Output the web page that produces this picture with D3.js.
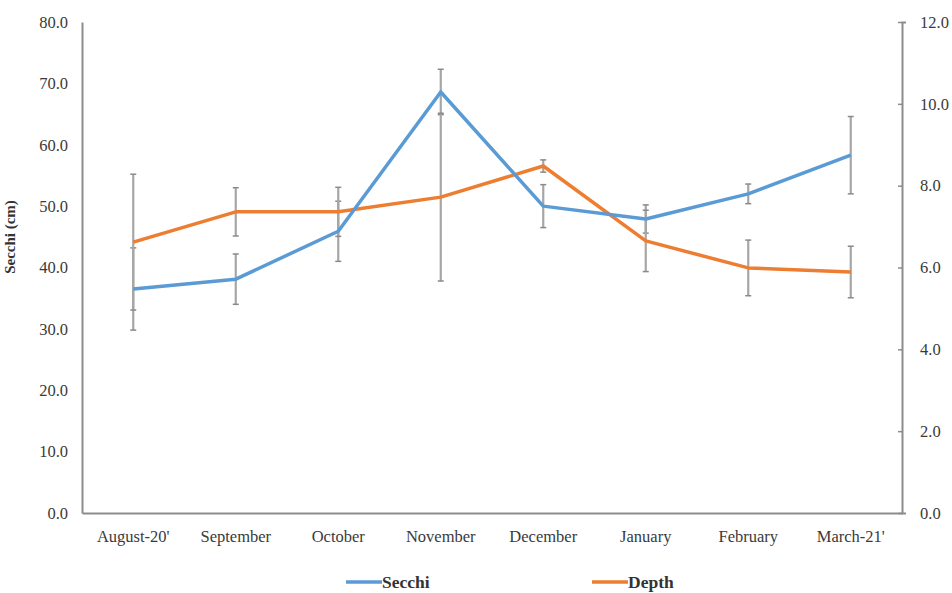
<!DOCTYPE html>
<html>
<head>
<meta charset="utf-8">
<script src="https://cdn.jsdelivr.net/npm/d3@7"></script>
<style>
  html, body { margin: 0; padding: 0; background: #fff; }
  svg { display: block; }
</style>
</head>
<body>
<div id="chart"></div>
<script>
(function () {
  'use strict';

  var months = ['August-20\'', 'September', 'October', 'November', 'December', 'January', 'February', 'March-21\''];
  var secchi = [36.5, 38.1, 45.9, 68.6, 50.0, 47.9, 52.0, 58.3];
  var secchiErr = [6.7, 4.1, 4.9, 3.7, 3.5, 2.3, 1.6, 6.3];
  var depth = [6.62, 7.36, 7.36, 7.72, 8.48, 6.65, 5.99, 5.89];
  var depthErr = [1.66, 0.59, 0.6, 2.05, 0.15, 0.75, 0.68, 0.63];
  var leftTicks = [0, 10, 20, 30, 40, 50, 60, 70, 80];
  var rightTicks = [0, 2, 4, 6, 8, 10, 12];

  var W = 952, H = 593;
  var margin = { top: 22, right: 50, bottom: 80, left: 82 };
  var innerW = W - margin.left - margin.right;
  var innerH = H - margin.top - margin.bottom;
  var font = '"Liberation Serif", "Times New Roman", serif';
  var axisColor = '#8c8c8c';
  var blue = '#5b9bd5';
  var orange = '#ed7d31';
  var errColor = '#a6a6a6';

  var svg = d3.select('#chart').append('svg').attr('width', W).attr('height', H);
  var g = svg.append('g').attr('transform', 'translate(' + margin.left + ',' + margin.top + ')');

  var x = d3.scaleBand().domain(months).range([0, innerW]);
  var yL = d3.scaleLinear().domain([0, 80]).range([innerH, 0]);
  var yR = d3.scaleLinear().domain([0, 12]).range([innerH, 0]);
  function cx(i) { return x(months[i]) + x.bandwidth() / 2; }

  // axes
  var left = g.append('g').call(d3.axisLeft(yL).tickValues(leftTicks).tickSize(0).tickPadding(14)
    .tickFormat(function (d) { return d.toFixed(1); }));
  var right = g.append('g').attr('transform', 'translate(' + innerW + ',0)')
    .call(d3.axisRight(yR).tickValues(rightTicks).tickSize(4).tickPadding(14)
      .tickFormat(function (d) { return d.toFixed(1); }));
  var bottom = g.append('g').attr('transform', 'translate(0,' + innerH + ')')
    .call(d3.axisBottom(x).tickSize(0).tickPadding(17));
  [left, right, bottom].forEach(function (a) {
    a.select('.domain').attr('stroke', axisColor).attr('stroke-width', 2);
    a.selectAll('.tick line').attr('stroke', axisColor).attr('stroke-width', 1.5);
    a.selectAll('.tick text').attr('fill', '#3a3a3a').attr('font-family', font).attr('font-size', '16.5px');
  });
  right.selectAll('.tick line').attr('x1', -4).attr('x2', 0);

  svg.append('text')
    .attr('transform', 'translate(15,' + 237 + ') rotate(-90)')
    .attr('text-anchor', 'middle')
    .attr('font-family', font).attr('font-weight', 'bold').attr('font-size', '15px')
    .attr('fill', '#333')
    .text('Secchi (cm)');

  // error bars
  function errorBars(vals, errs, scale) {
    var eg = g.append('g');
    vals.forEach(function (v, i) {
      var top = scale(v + errs[i]), bot = scale(v - errs[i]), xi = cx(i);
      eg.append('line').attr('x1', xi).attr('x2', xi).attr('y1', top).attr('y2', bot)
        .attr('stroke', errColor).attr('stroke-width', 2.2);
      [top, bot].forEach(function (yy) {
        eg.append('line').attr('x1', xi - 3).attr('x2', xi + 3).attr('y1', yy).attr('y2', yy)
          .attr('stroke', '#8a8a8a').attr('stroke-width', 1.5);
      });
    });
  }
  errorBars(secchi, secchiErr, yL);
  errorBars(depth, depthErr, yR);

  var lineL = d3.line().x(function (d, i) { return cx(i); }).y(function (d) { return yL(d); });
  var lineR = d3.line().x(function (d, i) { return cx(i); }).y(function (d) { return yR(d); });

  g.append('path').datum(depth).attr('d', lineR).attr('fill', 'none')
    .attr('stroke', orange).attr('stroke-width', 3.5).attr('stroke-linejoin', 'round');
  g.append('path').datum(secchi).attr('d', lineL).attr('fill', 'none')
    .attr('stroke', blue).attr('stroke-width', 3.5).attr('stroke-linejoin', 'round');

  // legend
  var legend = [
    { name: 'Secchi', color: blue, x: 346 },
    { name: 'Depth', color: orange, x: 592 }
  ];
  legend.forEach(function (l) {
    svg.append('line').attr('x1', l.x).attr('x2', l.x + 36).attr('y1', 582).attr('y2', 582)
      .attr('stroke', l.color).attr('stroke-width', 3.5);
    svg.append('text').attr('x', l.x + 36).attr('y', 588)
      .attr('font-family', font).attr('font-weight', 'bold').attr('font-size', '17.5px')
      .attr('fill', '#333').text(l.name);
  });
})();
</script>
</body>
</html>
